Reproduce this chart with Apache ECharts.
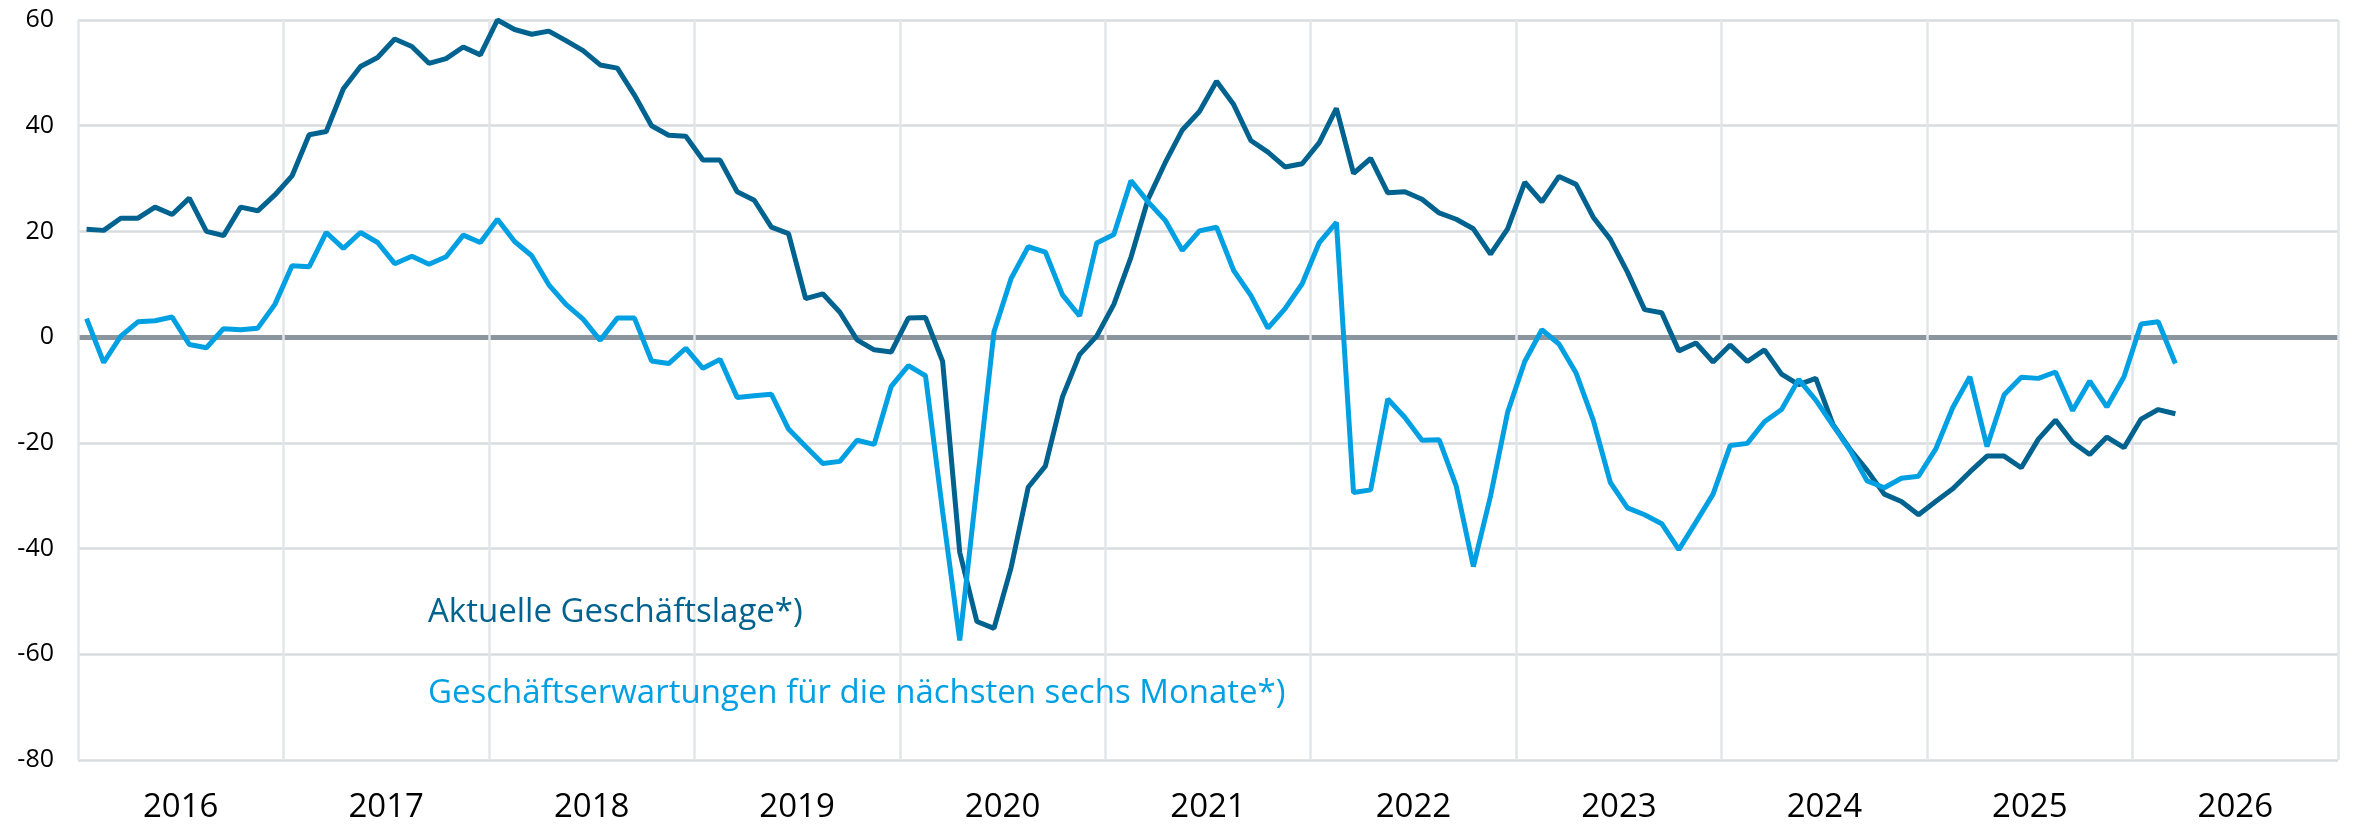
<!DOCTYPE html>
<html>
<head>
<meta charset="utf-8">
<script src="https://cdn.jsdelivr.net/npm/echarts@6/dist/echarts.min.js"></script>
<style>
  html, body { margin: 0; padding: 0; background: #fff; }
  #chart { width: 2354px; height: 825px; }
</style>
</head>
<body>
<div id="chart"></div>
<script>
// Jahre auf der x-Achse
var years = ['2016', '2017', '2018', '2019', '2020', '2021', '2022', '2023', '2024', '2025', '2026'];

// Monatskategorien (Jan 2016 - Dez 2026)
var months = [];
years.forEach(function (y) {
  for (var m = 1; m <= 12; m++) {
    months.push(y + '-' + (m < 10 ? '0' + m : m));
  }
});

var yTicks = [-80, -60, -40, -20, 0, 20, 40, 60];

// Aktuelle Geschäftslage, monatlich ab Jan 2016
var lage = [
  20.4, 20.2, 22.5, 22.5, 24.6, 23.2, 26.3, 20.0, 19.2, 24.6, 23.9, 26.9,
  30.5, 38.3, 38.9, 47.0, 51.2, 52.9, 56.4, 55.0, 51.8, 52.7, 54.9, 53.4,
  60.0, 58.2, 57.3, 57.9, 56.1, 54.2, 51.5, 50.9, 45.8, 40.0, 38.2, 38.0,
  33.5, 33.5, 27.5, 25.9, 20.8, 19.6, 7.3, 8.2, 4.7, -0.5, -2.4, -2.8,
  3.6, 3.7, -4.6, -40.7, -53.8, -55.1, -43.6, -28.4, -24.4, -11.3, -3.3, 0.2,
  6.2, 15.1, 26.1, 33.0, 39.2, 42.7, 48.4, 44.0, 37.2, 35.0, 32.2, 32.8,
  36.8, 43.3, 31.0, 33.8, 27.3, 27.5, 26.1, 23.5, 22.3, 20.5, 15.7, 20.5,
  29.3, 25.6, 30.4, 28.9, 22.7, 18.5, 12.3, 5.2, 4.6, -2.6, -1.1, -4.7,
  -1.5, -4.6, -2.4, -7.0, -9.0, -7.8, -16.5, -21.2, -25.2, -29.7, -31.1, -33.6,
  -31.1, -28.7, -25.5, -22.5, -22.5, -24.7, -19.3, -15.7, -19.9, -22.2, -18.9, -20.9,
  -15.5, -13.7, -14.5
];

// Geschäftserwartungen für die nächsten sechs Monate
var erwartungen = [
  3.5, -4.8, 0.2, 2.9, 3.1, 3.8, -1.4, -2.0, 1.6, 1.4, 1.7, 6.2,
  13.5, 13.3, 19.8, 16.8, 19.8, 17.9, 13.9, 15.3, 13.8, 15.2, 19.3, 17.9,
  22.3, 18.1, 15.4, 9.9, 6.2, 3.4, -0.6, 3.6, 3.6, -4.5, -5.0, -2.1,
  -5.9, -4.2, -11.4, -11.1, -10.8, -17.4, -20.7, -23.9, -23.5, -19.5, -20.3, -9.3,
  -5.4, -7.3, -33.0, -57.4, -28.2, 1.0, 11.1, 17.1, 16.1, 8.0, 4.0, 17.8,
  19.4, 29.6, 25.6, 22.1, 16.4, 20.1, 20.8, 12.6, 7.9, 1.7, 5.4, 10.1,
  17.9, 21.7, -29.4, -28.9, -11.7, -15.2, -19.5, -19.4, -28.2, -43.4, -30.1, -14.2,
  -4.6, 1.4, -1.3, -6.8, -15.7, -27.5, -32.3, -33.6, -35.3, -40.2, -35.0, -29.7,
  -20.5, -20.1, -16.0, -13.7, -8.0, -11.9, -16.7, -21.4, -27.2, -28.5, -26.7, -26.3,
  -21.2, -13.3, -7.5, -20.7, -10.9, -7.6, -7.8, -6.6, -13.9, -8.3, -13.2, -7.5,
  2.5, 2.9, -5.0
];

var seriesNames = ['Aktuelle Geschäftslage*)', 'Geschäftserwartungen für die nächsten sechs Monate*)'];
var colors = ['#00628f', '#00a0e2'];
var fontFamily = '"Open Sans", "Noto Sans", sans-serif';

var myChart = echarts.init(document.getElementById('chart'));

var option = {
  animation: false,
  color: colors,
  textStyle: { fontFamily: fontFamily },
  grid: { left: 78, right: 16, top: 20, bottom: 65 },
  legend: {
    orient: 'vertical',
    left: 418,
    top: 588,
    icon: 'none',
    itemWidth: 0,
    itemHeight: 40,
    itemGap: 41,
    selectedMode: false,
    textStyle: { fontSize: 33, lineHeight: 40, fontFamily: fontFamily },
    data: [
      { name: seriesNames[0], textStyle: { color: colors[0] } },
      { name: seriesNames[1], textStyle: { color: colors[1] } }
    ]
  },
  xAxis: [
    {
      type: 'category',
      data: months,
      boundaryGap: true,
      show: false
    },
    {
      type: 'category',
      data: years,
      position: 'bottom',
      boundaryGap: true,
      axisLine: { show: false },
      axisTick: { show: false },
      axisLabel: { fontSize: 33, color: '#000', margin: 31, fontFamily: fontFamily },
      splitLine: { show: true, interval: 0, lineStyle: { color: '#e3e6e8', width: 2.5 } }
    }
  ],
  yAxis: [
    {
      type: 'value',
      min: yTicks[0],
      max: yTicks[yTicks.length - 1],
      interval: 20,
      axisLine: { show: false },
      axisTick: { show: false },
      axisLabel: { fontSize: 25, color: '#000', margin: 24, fontFamily: fontFamily },
      splitLine: { show: true, lineStyle: { color: '#d8dcdf', width: 2.5 } }
    },
    {
      // Nulllinie
      type: 'value',
      min: yTicks[0],
      max: yTicks[yTicks.length - 1],
      interval: 80,
      axisLine: { show: false },
      axisTick: { show: false },
      axisLabel: { show: false },
      splitLine: { show: true, showMinLine: false, showMaxLine: false, lineStyle: { color: '#8a959e', width: 5 } }
    }
  ],
  series: [
    {
      name: seriesNames[0],
      type: 'line',
      xAxisIndex: 0,
      yAxisIndex: 0,
      data: lage,
      showSymbol: false,
      symbol: 'none',
      lineStyle: { width: 5, color: colors[0] },
      z: 3
    },
    {
      name: seriesNames[1],
      type: 'line',
      xAxisIndex: 0,
      yAxisIndex: 0,
      data: erwartungen,
      showSymbol: false,
      symbol: 'none',
      lineStyle: { width: 5, color: colors[1] },
      z: 4
    }
  ]
};

myChart.setOption(option);
</script>
</body>
</html>
